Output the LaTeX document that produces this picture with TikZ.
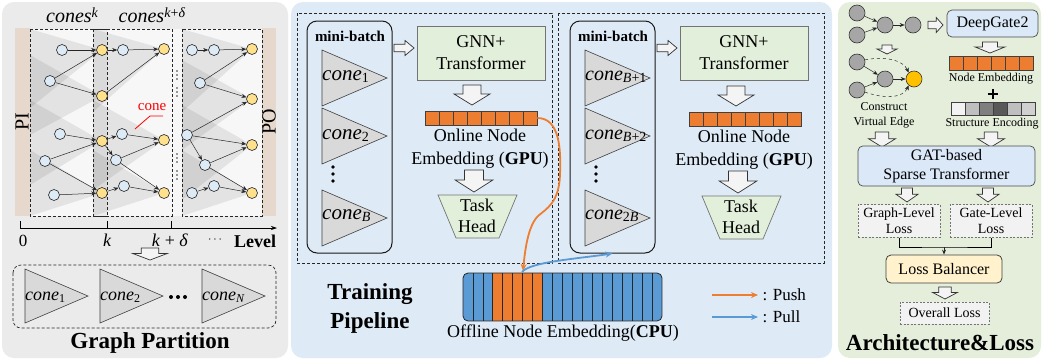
\documentclass[tikz,border=0pt]{standalone}
\usepackage{fontspec}
\setmainfont{Liberation Serif}
\usetikzlibrary{arrows.meta}
\definecolor{leftbg}{HTML}{EBEBEB}
\definecolor{midbg}{HTML}{DEEAF6}
\definecolor{rightbg}{HTML}{E4EEDB}
\definecolor{nodeblue}{HTML}{DDEBF7}
\definecolor{nodeyellow}{HTML}{FFE08C}
\definecolor{gold}{HTML}{FFC000}
\definecolor{embor}{HTML}{ED7D31}
\definecolor{embbl}{HTML}{5B9BD5}
\definecolor{boxgreen}{HTML}{E2EFDA}
\definecolor{boxblue}{HTML}{DAE8F7}
\definecolor{boxyellow}{HTML}{FFF2CC}
\definecolor{conefill}{HTML}{D9D9D9}
\definecolor{pibar}{HTML}{E6D8CC}
\definecolor{arrfill}{HTML}{F4F4F4}
\definecolor{gnodefill}{HTML}{A6A6A6}
\definecolor{lossgray}{HTML}{F2F2F2}
\newcommand\fsz[2]{\fontsize{#1}{#2}\selectfont}
\newcommand\mytri[4]{\draw[cone] (#1,#2) -- ++(#3,#4) -- ++(-#3,#4) -- cycle;}
\newcommand\cn[3]{{\fsz{#1}{#1}\itshape cone}\raisebox{-0.45ex}{\fsz{#2}{#2}#3}}
\tikzset{
  hollow/.style={fill=arrfill, draw=black!80, line width=0.7pt},
  pics/darr/.style 2 args={code={\draw[hollow] (-#1/4,0) -- (#1/4,0) -- (#1/4,#2*0.45) -- (#1/2,#2*0.45) -- (0,#2) -- (-#1/2,#2*0.45) -- (-#1/4,#2*0.45) -- cycle;}},
  pics/rarr/.style 2 args={code={\draw[hollow] (0,-#2/4) -- (#1*0.55,-#2/4) -- (#1*0.55,-#2/2) -- (#1,0) -- (#1*0.55,#2/2) -- (#1*0.55,#2/4) -- (0,#2/4) -- cycle;}},
  bnode/.style={circle, draw=black!85, fill=nodeblue, line width=0.6pt, minimum size=11pt, inner sep=0pt},
  ynode/.style={bnode, fill=nodeyellow},
  gnode/.style={circle, draw=black!80, fill=gnodefill, line width=0.6pt, minimum size=16pt, inner sep=0pt},
  edge/.style={-{Stealth[length=5pt,width=4pt]}, line width=0.5pt, black!85},
  cone/.style={fill=conefill, draw=black!75, line width=0.6pt},
  coneshade/.style={fill=black, fill opacity=0.08},
  dashbox/.style={draw=black!85, dashed, dash pattern=on 3pt off 2pt, line width=0.7pt},
  greenbox/.style={draw=black!55, fill=boxgreen, line width=0.7pt},
  bluebox/.style={draw=black!70, fill=boxblue, line width=0.7pt, rounded corners=5pt},
  lossbox/.style={draw=black!55, fill=lossgray, dashed, dash pattern=on 2pt off 1.5pt, line width=0.7pt, align=center},
  mbbox/.style={draw=black!90, line width=1pt, rounded corners=10pt},
  pusharr/.style={-{Stealth[length=7pt,width=6pt]}, line width=1.8pt, embor},
  pullarr/.style={-{Stealth[length=7pt,width=6pt]}, line width=1.8pt, embbl},
  title/.style={font=\fsz{23}{29}\bfseries, align=center},
  txt/.style={font=\fsz{18}{22}, align=center},
  clab/.style={anchor=west, inner sep=1pt},
}
\begin{document}
\begin{tikzpicture}[x=1pt,y=-1pt]
\useasboundingbox (0,0) rectangle (1043,362);
% panels
\fill[leftbg, rounded corners=12pt] (2,2) rectangle (288,358);
\fill[midbg, rounded corners=12pt] (291,2) rectangle (832,358);
\fill[rightbg, rounded corners=12pt] (838,2) rectangle (1041,358);

% ================= LEFT PANEL =================
\fill[black!3] (30,29) rectangle (262,216);
% cone shading
\fill[coneshade] (30,29) -- (102,50) -- (30,108) -- cycle;
\fill[coneshade] (30,55) -- (102,96) -- (30,135) -- cycle;
\fill[coneshade] (30,100) -- (102,141) -- (30,185) -- cycle;
\fill[coneshade] (30,150) -- (102,193) -- (30,216) -- cycle;
\fill[coneshade] (93,29) -- (164,49) -- (93,112) -- cycle;
\fill[coneshade] (93,100) -- (164,140) -- (93,190) -- cycle;
\fill[coneshade] (93,150) -- (164,193) -- (93,216) -- cycle;
\fill[coneshade] (182,29) -- (252,49) -- (182,112) -- cycle;
\fill[coneshade] (182,60) -- (252,99) -- (182,150) -- cycle;
\fill[coneshade] (182,105) -- (252,145) -- (182,200) -- cycle;
\fill[coneshade] (182,150) -- (252,193) -- (182,216) -- cycle;
\fill[black, fill opacity=0.04] (93,29) rectangle (107,216);
% PI / PO bars
\fill[pibar] (15,28) rectangle (30,216);
\fill[pibar] (262,28) rectangle (276,216);
\node[rotate=90, font=\fsz{20}{22}] (pi) at (22,122) {PI};
\node[rotate=90, font=\fsz{20}{22}] (po) at (269,122) {PO};
% dashed level boxes
\draw[dashbox] (30,29) rectangle (107,216);
\draw[dashbox] (93,29) rectangle (172,216);
\draw[dashbox] (182,29) rectangle (262,216);
% titles
\node[inner sep=0pt] (ck) at (72,15) {{\fsz{20}{20}\itshape cones}\raisebox{1.0ex}{\fsz{14}{14}\itshape k}};
\node[inner sep=0pt] (ckd) at (152,15) {{\fsz{20}{20}\itshape cones}\raisebox{1.0ex}{\fsz{14}{14}\textit{k}+\textit{δ}}};
% nodes
\foreach \n/\x/\y in {b1/62/50, b2/50/81, b3/60/134, b4/45/161, b5/54/195,
  c1/123/50, c2/122/134, c3/116/160, c4/124/186,
  d1/192/50, d2/214/50, d3/200/83, d4/187/135, d5/205/165, d6/192/193, d7/214/186}
  \node[bnode] (\n) at (\x,\y) {};
\foreach \n/\x/\y in {y1/102/50, y2/102/96, y3/102/141, y4/102/193,
  z1/164/49, z2/164/140, z3/164/193,
  w1/252/49, w2/252/99, w3/252/145, w4/252/193}
  \node[ynode] (\n) at (\x,\y) {};
\foreach \a/\b in {b1/y1, b2/y1, b2/y2, b3/y3, b4/y3, b4/y4, b5/y4, y1/c1, c1/z1, y2/z1,
  y3/c2, y3/c3, c2/z2, c3/z2, c3/z3, y4/c4, c4/z3, d1/d2, d2/w1, d3/w1, d3/w2,
  d4/w2, d4/w3, d4/d5, d5/w3, d5/w4, d6/d7, d7/w4}
  \draw[edge] (\a) -- (\b);
% vertical dots
\foreach \y in {71,75,79,88,92,96,154,158,162,171,175,179}
  \fill[black!80] (177,\y) circle (0.9pt);
% red cone label
\node[text=red, font=\fsz{15}{17}] (conelbl) at (152,107) {cone};
\coordinate (conept) at (135,129);
\draw[red, line width=0.8pt] (conept) -- (150,116) -- (163,116);
% axis
\coordinate (ax0) at (20,228);
\coordinate (ax1) at (277,228);
\draw[line width=0.7pt, -{Stealth[length=6pt,width=4pt]}] (ax0) -- (ax1);
\draw[line width=0.7pt] (20,221) -- (20,228) (107,221) -- (107,228) (171,221) -- (171,228);
\node[font=\fsz{17}{18}] (l0) at (23,241) {0};
\node[font=\fsz{18}{18}\itshape] (lk) at (107,240) {k};
\node[font=\fsz{18}{18}] (lkd) at (170,240) {\textit{k} + \textit{δ}};
\node[font=\fsz{12}{14}] (ldots) at (215,240) {$\cdots$};
\node[font=\fsz{18}{20}\bfseries] (level) at (255,241) {Level};
\pic at (150,248) {darr={35}{12}};
% partition box
\draw[dashbox, rounded corners=8pt] (13,265) rectangle (276,328);
\mytri{25}{269}{63}{27}
\mytri{100}{269}{63}{27}
\mytri{202}{269}{63}{27}
\node[clab] (p1) at (24,297) {\cn{18}{12}{1}};
\node[clab] (p2) at (99,297) {\cn{18}{12}{2}};
\node[clab] (pn) at (201,297) {\cn{18}{12}{\textit{N}}};
\foreach \x in {171,178,185} \fill (\x,297) circle (2pt);
\node[title] (gp) at (150,343) {Graph Partition};

% ================= MIDDLE PANEL =================
\draw[dashbox] (297,13) rectangle (552,263);
\draw[dashbox] (558,13) rectangle (824,263);
% first half
\node[mbbox, minimum width=85, minimum height=232] (mb1) at (349.5,137) {};
\node[font=\fsz{15}{17}\bfseries] (mbl1) at (350,36) {mini-batch};
\mytri{322}{50}{65}{28}
\mytri{322}{108}{65}{28}
\mytri{322}{190}{65}{28}
\node[clab] (m11) at (321,77) {\cn{21}{14}{1}};
\node[clab] (m12) at (321,136) {\cn{21}{14}{2}};
\node[clab] (m1b) at (321,216) {\cn{21}{14}{\textit{B}}};
\foreach \y in {167,174,181} \fill (333,\y) circle (1.8pt);
\node[greenbox, txt, minimum width=128, minimum height=54] (gnn1) at (481,53) {GNN+\\Transformer};
\pic at (394,48) {rarr={20}{15}};
\pic at (472,85) {darr={36}{20}};
\node[draw=black!75, fill=embor, line width=0.7pt, minimum width=112, minimum height=14, inner sep=0pt] (emb1) at (481,118) {};
\foreach \i in {1,...,7} \draw[black!75, line width=0.7pt] (425+14*\i,111) -- (425+14*\i,125);
\node[txt, font=\fsz{18}{23}] (on1) at (480,149) {Online Node\\Embedding (\textbf{GPU})};
\pic at (474,170) {darr={38}{22}};
\draw[greenbox] (438,195) -- (517,195) -- (499,238) -- (456,238) -- cycle;
\node[txt, font=\fsz{18}{21}] (th1) at (477,216) {Task\\Head};
% second half
\node[mbbox, minimum width=85, minimum height=232] (mb2) at (612.5,137) {};
\node[font=\fsz{15}{17}\bfseries] (mbl2) at (613,36) {mini-batch};
\mytri{585}{50}{65}{28}
\mytri{585}{108}{65}{28}
\mytri{585}{190}{65}{28}
\node[clab] (m21) at (584,77) {\cn{20}{14}{\textit{B}+1}};
\node[clab] (m22) at (584,136) {\cn{20}{14}{\textit{B}+2}};
\node[clab] (m2b) at (584,216) {\cn{20}{14}{2\textit{B}}};
\foreach \y in {167,174,181} \fill (596,\y) circle (1.8pt);
\node[greenbox, txt, minimum width=128, minimum height=54] (gnn2) at (744,53) {GNN+\\Transformer};
\pic at (657,48) {rarr={20}{15}};
\pic at (736,86) {darr={36}{20}};
\node[draw=black!75, fill=embor, line width=0.7pt, minimum width=112, minimum height=14, inner sep=0pt] (emb2) at (745,119) {};
\foreach \i in {1,...,7} \draw[black!75, line width=0.7pt] (689+14*\i,112) -- (689+14*\i,126);
\node[txt, font=\fsz{18}{23}] (on2) at (744,150) {Online Node\\Embedding (\textbf{GPU})};
\pic at (738,171) {darr={38}{22}};
\draw[greenbox] (702,196) -- (781,196) -- (763,239) -- (720,239) -- cycle;
\node[txt, font=\fsz{18}{21}] (th2) at (741,217) {Task\\Head};
% offline embedding
\node[minimum width=199, minimum height=48, inner sep=0pt] (off) at (562.5,297) {};
\begin{scope}
\clip[rounded corners=5pt] (463,273) rectangle (662,321);
\fill[embbl] (463,273) rectangle (662,321);
\fill[embor] (493,273) rectangle (543,321);
\end{scope}
\foreach \i in {1,...,19} \draw[black!85, line width=0.8pt] (463+9.95*\i,273) -- (463+9.95*\i,321);
\draw[black!85, line width=0.8pt, rounded corners=5pt] (463,273) rectangle (662,321);
\node[font=\fsz{18}{20}] (offl) at (563,333) {Offline Node Embedding(\textbf{CPU})};
% push / pull curves
\coordinate (pushend) at (523,271);
\coordinate (pullstart) at (522,272);
\draw[pusharr] (emb1.east) .. controls (560,118) and (561,150) .. (560,175) .. controls (559,203) and (546,209) .. (538,216) .. controls (528,226) and (525,250) .. (pushend);
\draw[pullarr] (pullstart) .. controls (530,262) and (575,259) .. (mb2.south);
\node[title] (tp) at (370,308) {Training\\Pipeline};
% legend
\coordinate (lp1) at (712,295); \coordinate (lp2) at (758,295);
\coordinate (ll1) at (712,317); \coordinate (ll2) at (758,317);
\draw[pusharr] (lp1) -- (lp2);
\draw[pullarr] (ll1) -- (ll2);
\node[anchor=west, font=\fsz{17}{19}] (lpush) at (759,295) {: Push};
\node[anchor=west, font=\fsz{17}{19}] (lpull) at (759,317) {: Pull};

% ================= RIGHT PANEL =================
\node[gnode] (g1) at (857,13) {};
\node[gnode] (g2) at (857,35) {};
\node[gnode] (g3) at (885,25) {};
\node[gnode] (g4) at (913,25) {};
\draw[edge] (g1) -- (g3);
\draw[edge] (g2) -- (g3);
\draw[edge] (g3) -- (g4);
\pic at (928,25) {rarr={15}{15}};
\node[bluebox, minimum width=91, minimum height=27, font=\fsz{16}{18}] (dg) at (992.5,23.5) {DeepGate2};
\pic at (887,45) {darr={20}{9}};
\node[gnode] (g5) at (857,62) {};
\node[gnode] (g6) at (857,90) {};
\node[gnode] (g7) at (885,79) {};
\node[gnode, fill=gold] (g8) at (914,79) {};
\draw[edge] (g5) -- (g7);
\draw[edge] (g6) -- (g7);
\draw[edge] (g7) -- (g8);
\draw[edge, dashed] (g5.15) .. controls (885,56) and (903,60) .. (g8.130);
\draw[edge, dashed] (g6.-15) .. controls (885,99) and (903,98) .. (g8.-130);
\node[font=\fsz{12}{15}, align=center] (cve) at (884,115) {Construct\\Virtual Edge};
\pic at (990,42) {darr={30}{11}};
\node[draw=black!75, fill=embor, line width=0.7pt, minimum width=84, minimum height=14, inner sep=0pt] (ne) at (991,63) {};
\foreach \i in {1,...,5} \draw[black!75, line width=0.7pt] (949+14*\i,56) -- (949+14*\i,70);
\node[font=\fsz{12}{14}] (nel) at (991,79) {Node Embedding};
\node[inner sep=0pt, minimum size=10pt] (plus) at (993,94) {};
\draw[line width=2.8pt] (plus.north) -- (plus.south) (plus.west) -- (plus.east);
\foreach \i/\c in {0/F2F2F2, 1/BFBFBF, 2/7F7F7F, 3/595959, 4/BFBFBF, 5/D0D0D0} {
  \definecolor{tmpc}{HTML}{\c}
  \fill[tmpc] (951+14*\i,102) rectangle (965+14*\i,115);
}
\node[draw=black!75, line width=0.7pt, minimum width=84, minimum height=13, inner sep=0pt] (se) at (993,108.5) {};
\foreach \i in {1,...,5} \draw[black!75, line width=0.7pt] (951+14*\i,102) -- (951+14*\i,115);
\node[font=\fsz{12}{14}] (sel) at (992,124) {Structure Encoding};
\pic at (882,132) {darr={27}{15}};
\pic at (991,132) {darr={27}{15}};
\node[bluebox, minimum width=177, minimum height=38, font=\fsz{16}{19}, align=center] (gat) at (946.5,166) {GAT-based\\Sparse Transformer};
\pic at (907,188) {darr={22}{14}};
\pic at (988,188) {darr={22}{14}};
\node[lossbox, minimum width=82, minimum height=30, font=\fsz{14}{16}] (gl) at (899,221) {Graph-Level\\Loss};
\node[lossbox, minimum width=82, minimum height=30, font=\fsz{14}{16}] (gtl) at (991,221) {Gate-Level\\Loss};
\coordinate (lmid) at (944,247);
\draw[line width=1pt] (gl.south) |- (lmid) -| (gtl.south);
\node[draw=black!75, fill=boxyellow, line width=0.8pt, rounded corners=5pt, minimum width=116, minimum height=28, font=\fsz{16}{18}] (lb) at (944,269) {Loss Balancer};
\draw[edge, line width=0.8pt] (lmid) -- (lb.north);
\pic at (945,287) {darr={25}{12}};
\node[lossbox, minimum width=89, minimum height=22, font=\fsz{14}{16}] (ol) at (944.5,313) {Overall Loss};
\node[title] (al) at (940,343) {Architecture\&Loss};
\end{tikzpicture}
\end{document}
